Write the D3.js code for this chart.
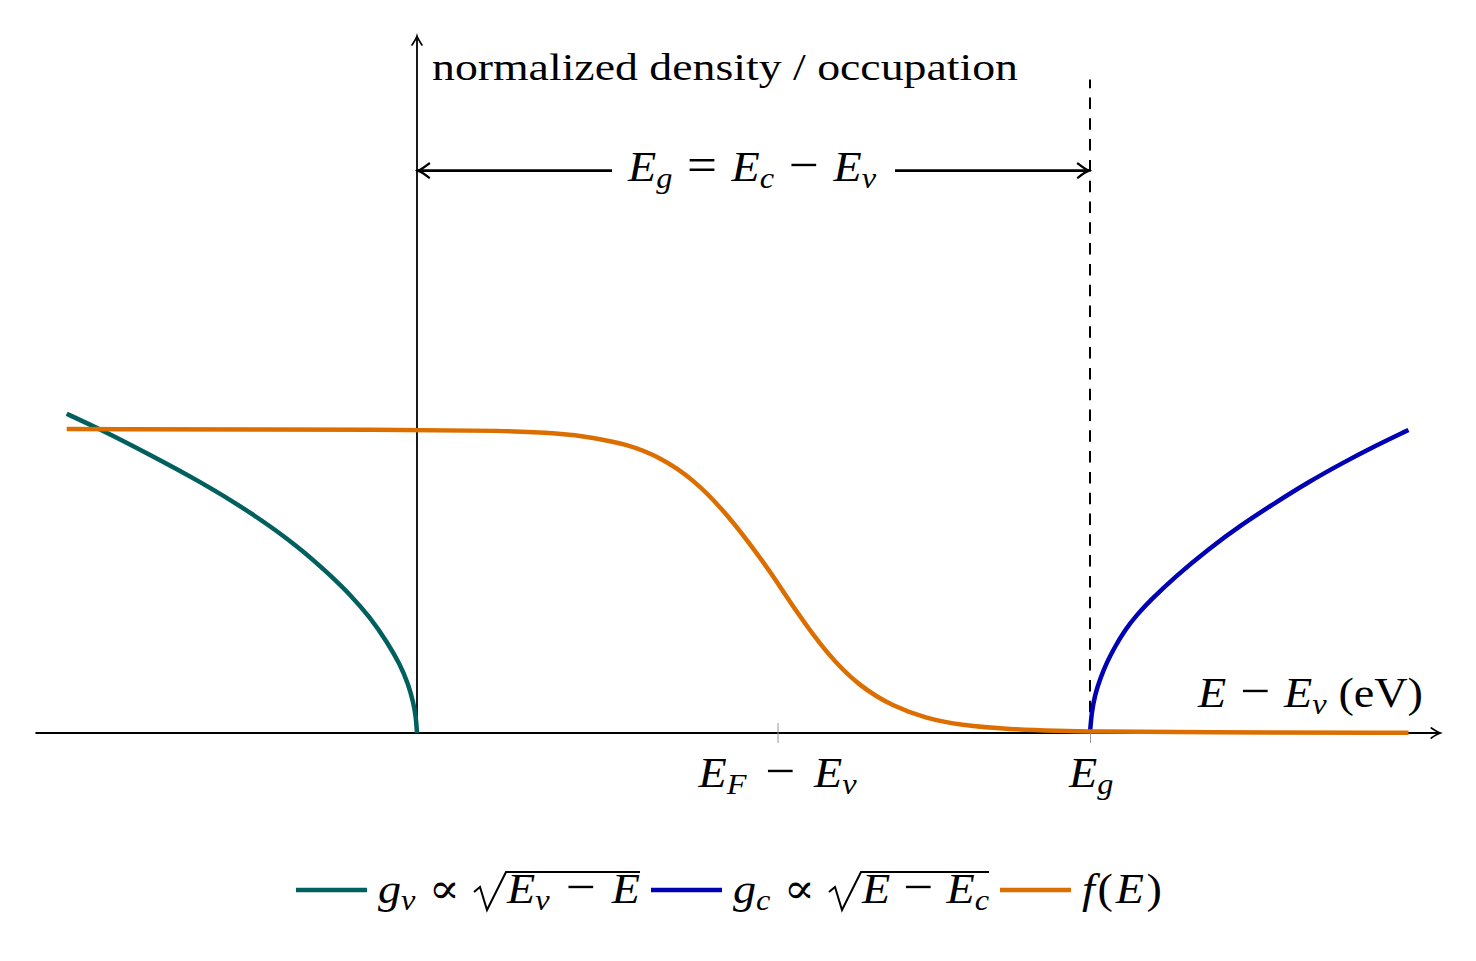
<!DOCTYPE html>
<html>
<head>
<meta charset="utf-8">
<script src="https://cdn.jsdelivr.net/npm/d3@7"></script>
<style>
  body { margin: 0; background: #fff; }
  text { font-family: "Liberation Serif", "DejaVu Serif", serif; fill: #000; }
</style>
</head>
<body>
<svg id="chart" width="1476" height="961"></svg>
<script>
// band edges and Fermi level (eV, relative to E_v)
var Eg = 1.12,
    Ef = 0.6;

// valence band density of states
var valE = [-0.583, -0.528, -0.444, -0.361, -0.278, -0.195, -0.145, -0.111, -0.078, -0.050, -0.028, -0.0145, -0.006, -0.0017, 0];
var valG = [1.05, 1.0, 0.915, 0.827, 0.728, 0.61, 0.52, 0.455, 0.38, 0.30, 0.225, 0.16, 0.10, 0.052, 0];

// conduction band density of states
var condE = [1.12, 1.1228, 1.1283, 1.1366, 1.1478, 1.1616, 1.1782, 1.1977, 1.2198, 1.261, 1.317, 1.372, 1.428, 1.483, 1.539, 1.594, 1.65];
var condG = [0, 0.07, 0.125, 0.177, 0.232, 0.284, 0.339, 0.388, 0.435, 0.513, 0.605, 0.685, 0.757, 0.825, 0.887, 0.944, 0.997];

// Fermi-Dirac occupation
var fermiE = [-0.583, 0, 0.138, 0.238, 0.293, 0.349, 0.404, 0.46, 0.515, 0.57, 0.599, 0.626, 0.682, 0.737, 0.793, 0.848, 0.904, 0.987, 1.07, 1.12, 1.3, 1.65];
var fermiF = [1.0, 0.997, 0.995, 0.986, 0.972, 0.95, 0.908, 0.835, 0.723, 0.58, 0.498, 0.415, 0.26, 0.152, 0.087, 0.048, 0.026, 0.012, 0.007, 0.005, 0.002, 0.001];

var tickE = [Ef, Eg];

var svg = d3.select('#chart');

var x = d3.scaleLinear().domain([0, Eg]).range([417, 1090]),
    y = d3.scaleLinear().domain([0, 1]).range([733, 429]);

var colors = {val: '#00605e', cond: '#0000b4', fermi: '#dc6e00'};

var defs = svg.append('defs');
function addTip(id, len, half, sw) {
  defs.append('marker')
      .attr('id', id)
      .attr('viewBox', `${-len - 3} ${-half - 3} ${len + 6} ${2 * half + 6}`)
      .attr('refX', 0).attr('refY', 0)
      .attr('markerWidth', len + 6).attr('markerHeight', 2 * half + 6)
      .attr('markerUnits', 'userSpaceOnUse')
      .attr('orient', 'auto-start-reverse')
    .append('path')
      .attr('d', `M${-len},${-half} Q${-len * 0.35},${-half * 0.2} 0,0 Q${-len * 0.35},${half * 0.2} ${-len},${half}`)
      .attr('fill', 'none')
      .attr('stroke', '#000')
      .attr('stroke-width', sw)
      .attr('stroke-linecap', 'round');
}
addTip('tip', 9, 5, 1.7);
addTip('tipBig', 11, 7, 2.4);

// math-ish text: parts are [text, italic?, sub?]
// glyphs get a slight horizontal stretch, the rest of the room up to `width`
// goes mostly round the operators, like TeX spacing
var stretch = 1.1;
function mathText(parent, parts, size, width, px, py) {
  var g = parent.append('g')
      .attr('transform', `translate(${px}, ${py}) scale(${stretch}, 1)`);
  var t = g.append('text').attr('font-size', size);
  var isOp = p => p[0].indexOf(' ') >= 0 && p[0].trim().length === 1;
  var lowered = false;
  var spans = parts.map(function(p) {
    var s = t.append('tspan').text(p[0]);
    if (p[1]) s.attr('font-style', 'italic');
    if (isOp(p) && p[0].trim() !== '∝') s.attr('font-size', size * 1.15);
    if (p[2]) {
      s.attr('font-size', size * 0.7).attr('dy', lowered ? 0 : size * 0.17);
      lowered = true;
    } else if (lowered) {
      s.attr('dy', -size * 0.17);
      lowered = false;
    }
    return s;
  });
  if (width) {
    var extra = width / stretch - t.node().getComputedTextLength();
    var w = parts.map(function(p, i) {
      if (i === 0 || p[2]) return 0;
      return (isOp(p) || isOp(parts[i - 1])) ? 1 : 0.3;
    });
    var sum = d3.sum(w);
    if (sum > 0) spans.forEach((s, i) => { if (w[i]) s.attr('dx', extra * w[i] / sum); });
  }
  return g;
}

// axes
svg.append('line')
    .attr('x1', x(-0.635)).attr('x2', x(1.703))
    .attr('y1', y(0)).attr('y2', y(0))
    .attr('stroke', '#000').attr('stroke-width', 1.8)
    .attr('marker-end', 'url(#tip)');

svg.append('line')
    .attr('x1', x(0)).attr('x2', x(0))
    .attr('y1', y(0)).attr('y2', y(2.293))
    .attr('stroke', '#000').attr('stroke-width', 1.8)
    .attr('marker-end', 'url(#tip)');

var ax = svg.append('g')
    .attr('transform', `translate(0, ${y(0) - 10})`)
    .call(d3.axisBottom(x).tickValues(tickE).tickSize(20).tickFormat(''));
ax.select('.domain').remove();
ax.selectAll('.tick line').attr('stroke', '#999').attr('stroke-width', 1);

// dashed line at the conduction band edge
svg.append('line')
    .attr('x1', x(Eg)).attr('x2', x(Eg))
    .attr('y1', y(0)).attr('y2', y(2.15))
    .attr('stroke', '#000').attr('stroke-width', 2)
    .attr('stroke-dasharray', '11.5,9.3');

// curves
var line = d3.line()
  .x(d => x(d[0]))
  .y(d => y(d[1]))
  .curve(d3.curveBasis);

var series = [
  {key: 'val', data: d3.zip(valE, valG)},
  {key: 'cond', data: d3.zip(condE, condG)},
  {key: 'fermi', data: d3.zip(fermiE, fermiF)}
];

svg.selectAll('path.curve')
  .data(series)
  .enter().append('path')
    .attr('class', 'curve')
    .attr('fill', 'none')
    .attr('stroke', d => colors[d.key])
    .attr('stroke-width', 4.5)
    .attr('d', d => line(d.data));

// band gap dimension arrow
var gapY = y(1.85);
svg.append('line')
    .attr('x1', x(0) + 1).attr('x2', x(Eg) - 1)
    .attr('y1', gapY).attr('y2', gapY)
    .attr('stroke', '#000').attr('stroke-width', 2.6)
    .attr('marker-start', 'url(#tipBig)')
    .attr('marker-end', 'url(#tipBig)');

svg.append('rect')
    .attr('x', 612).attr('y', gapY - 25)
    .attr('width', 283).attr('height', 50)
    .attr('fill', '#fff');
mathText(svg, [['E', 1], ['g', 1, 1], [' = '], ['E', 1], ['c', 1, 1], [' − '], ['E', 1], ['v', 1, 1]], 42, 248, 628, gapY + 10);

// axis labels
svg.append('text')
    .attr('x', 432).attr('y', 80)
    .attr('font-size', 37)
    .attr('textLength', 586)
    .attr('lengthAdjust', 'spacingAndGlyphs')
    .text('normalized density / occupation');

mathText(svg, [['E', 1], [' − '], ['E', 1], ['v', 1, 1], [' (eV)']], 42, 225, 1198, 707);

mathText(svg, [['E', 1], ['F', 1, 1], [' − '], ['E', 1], ['v', 1, 1]], 42, 158, x(Ef) - 79, 787);

mathText(svg, [['E', 1], ['g', 1, 1]], 42, 42, x(Eg) - 21, 787);

// legend
var legendItems = [
  {key: 'val', pre: [['g', 1], ['v', 1, 1], [' ∝']], rad: [['E', 1], ['v', 1, 1], [' − '], ['E', 1]]},
  {key: 'cond', pre: [['g', 1], ['c', 1, 1], [' ∝']], rad: [['E', 1], [' − '], ['E', 1], ['c', 1, 1]]},
  {key: 'fermi', pre: [['f', 1], ['('], ['E', 1], [')']], rad: null}
];
var legendWidths = [[82, 133], [82, 127], [80, 0]];

var legend = svg.append('g');
var lx = 296, ly = 890, base = 903;
legendItems.forEach(function(it, i) {
  legend.append('line')
      .attr('x1', lx).attr('x2', lx + 71)
      .attr('y1', ly).attr('y2', ly)
      .attr('stroke', colors[it.key]).attr('stroke-width', 4.5);
  lx += 82;
  mathText(legend, it.pre, 42, legendWidths[i][0], lx, base);
  lx += legendWidths[i][0];
  if (it.rad) {
    var r0 = lx + 14;
    lx = r0 + 33;
    mathText(legend, it.rad, 42, legendWidths[i][1], lx, base);
    lx += legendWidths[i][1];
    legend.append('path')
        .attr('d', `M${r0},${base - 11} L${r0 + 6},${base - 16} L${r0 + 13},${base + 7} L${r0 + 32},${base - 31} H${lx}`)
        .attr('fill', 'none')
        .attr('stroke', '#000')
        .attr('stroke-width', 2)
        .attr('stroke-linejoin', 'miter');
  }
  lx += 11;
});
</script>
</body>
</html>
